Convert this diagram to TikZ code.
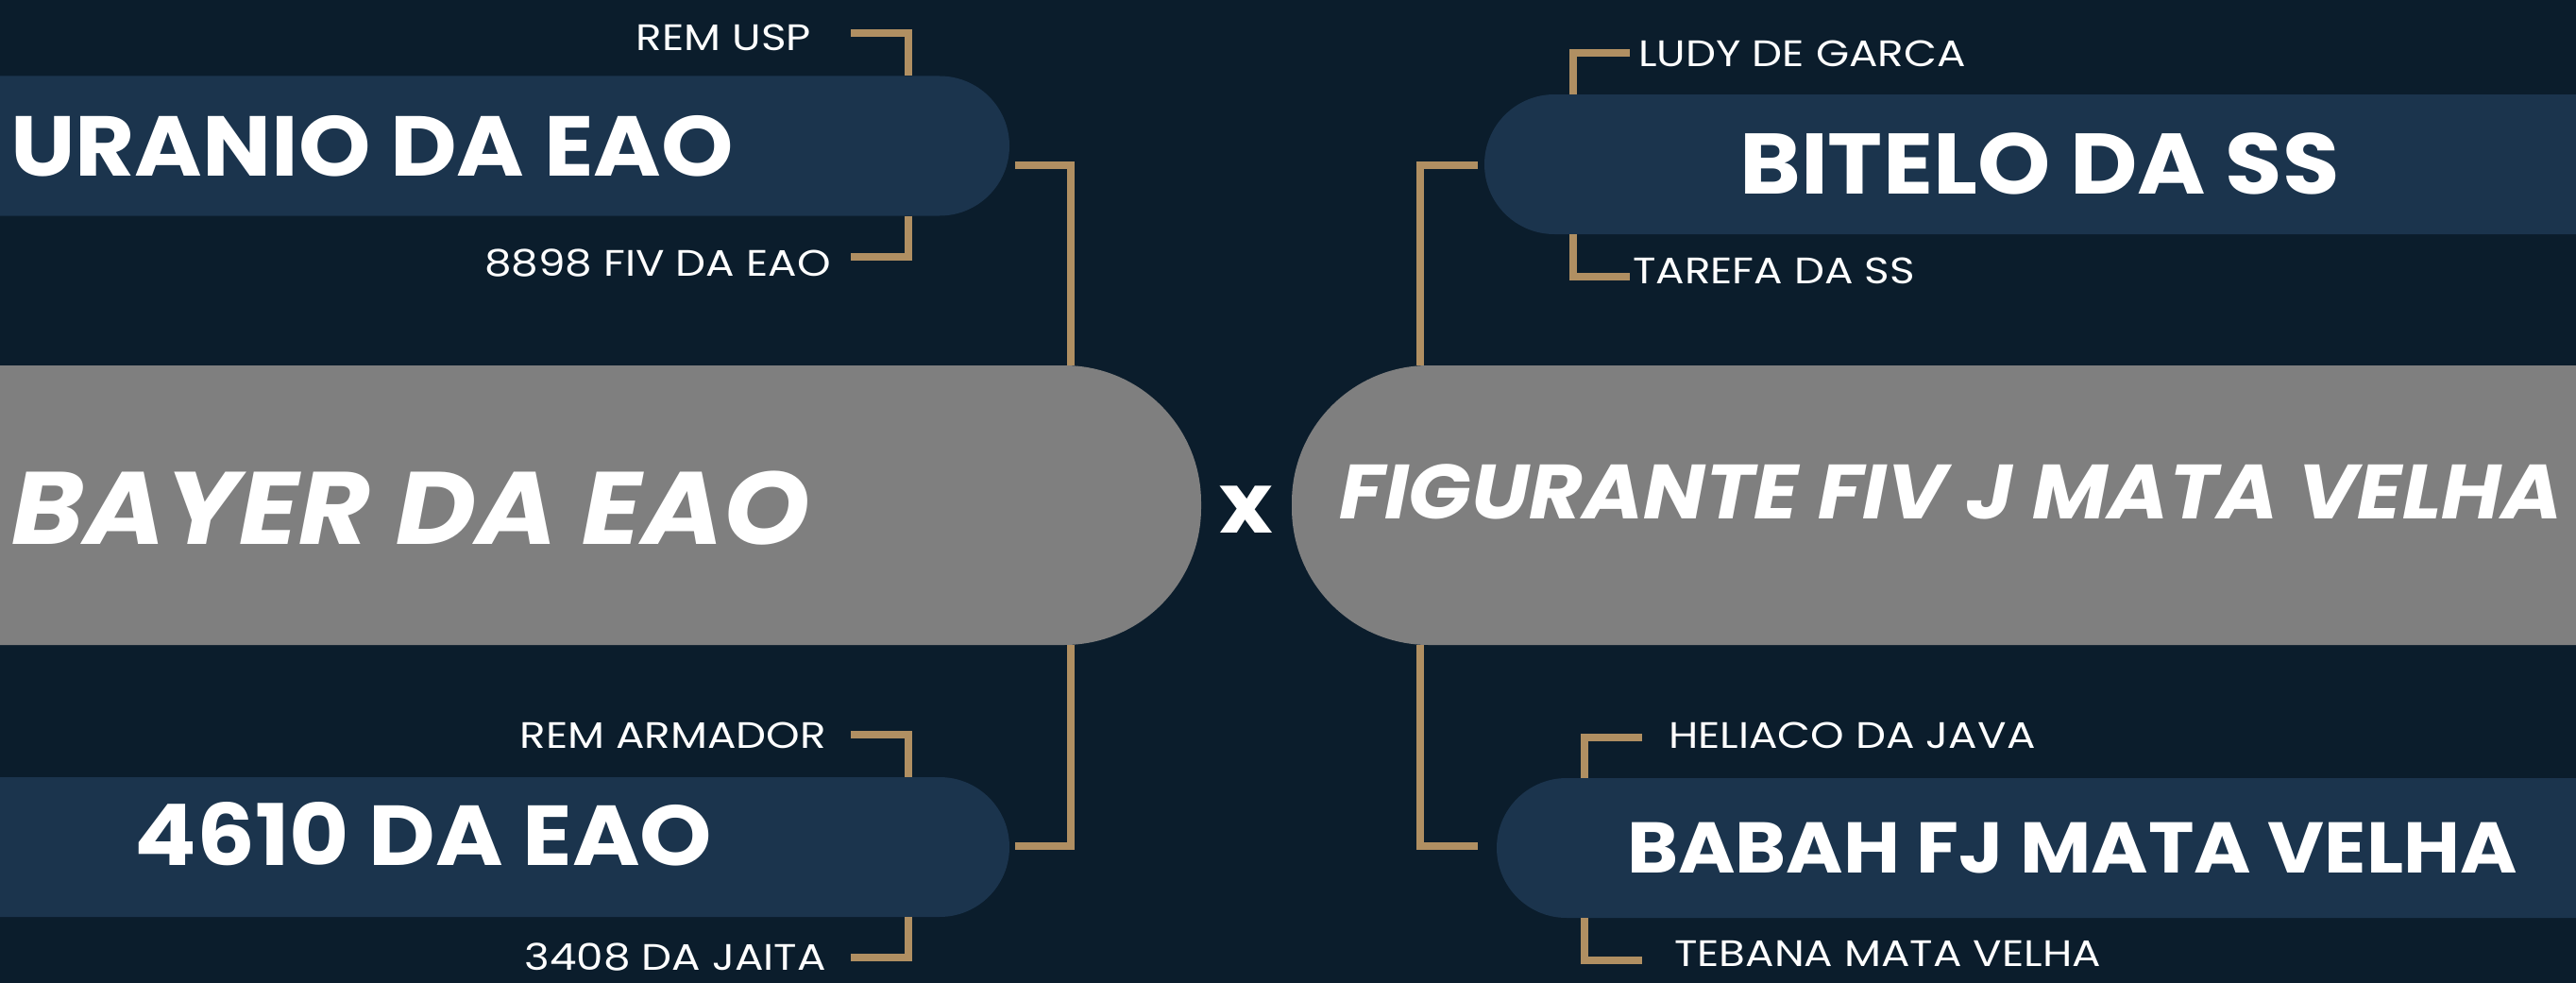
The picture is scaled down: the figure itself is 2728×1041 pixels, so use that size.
\documentclass[tikz,border=0pt]{standalone}
\usepackage{fontspec}
\setmainfont{Poppins}
\newfontfamily\namefont{Poppins}[FakeStretch=1.08]
\newfontfamily\mainfont{Poppins}[FakeStretch=1.07]
\newfontfamily\sirefont{Poppins}[FakeStretch=1.16]
\usetikzlibrary{positioning}
\definecolor{bgnavy}{HTML}{0B1D2C}
\definecolor{boxblue}{HTML}{1B344D}
\definecolor{boxgray}{HTML}{7F7F7F}
\definecolor{gold}{HTML}{B08F62}
\tikzset{
  parentbox/.style={fill=boxblue,rounded corners=74pt,minimum height=148pt,inner sep=0pt},
  mainbox/.style={fill=boxgray,rounded corners=145pt,minimum height=296pt,inner sep=0pt},
  parenttxt/.style={text=white,inner sep=0pt,font=\namefont\bfseries\fontsize{#1}{#1}\selectfont},
  maintxt/.style={text=white,inner sep=0pt,font=\mainfont\bfseries\itshape\fontsize{#1}{#1}\selectfont},
  sire/.style={text=white,inner sep=0pt,font=\sirefont\fontsize{39pt}{39pt}\selectfont},
  link/.style={draw=gold,line width=8pt}
}
\begin{document}
\begin{tikzpicture}[x=1pt,y=-1pt]
\useasboundingbox (0,0) rectangle (2728,1041);
\clip (0,0) rectangle (2728,1041);
\fill[bgnavy] (0,0) rectangle (2728,1041);
% columns of the gold brackets
\coordinate (colA) at (962,0);
\coordinate (colB) at (1134,0);
\coordinate (colC) at (1504,0);
\coordinate (colD) at (1666,0);
\coordinate (colE) at (1678,0);
% left side: sire and his parents
\node[parentbox,minimum width=1269pt] (uranio) at (434.5,154.5) {};
\node[mainbox,minimum width=1472pt] (bayer) at (536,535) {};
\node[parentbox,minimum width=1269pt] (quatro) at (434.5,897) {};
\node[parenttxt=90pt] (uraniotxt) at (394,154.5) {URANIO DA EAO};
\node[maintxt=109pt] (bayertxt) at (435,538) {BAYER DA EAO};
\node[parenttxt=90pt] (quatrotxt) at (448.5,883) {4610 DA EAO};
% right side: dam and her parents
\node[parentbox,minimum width=1356pt] (bitelo) at (2250,174) {};
\node[mainbox,minimum width=1560pt] (figurante) at (2148,535) {};
\node[parentbox,minimum width=1343pt] (babah) at (2256.5,898) {};
\node[parenttxt=91pt] (bitelotxt) at (2160,173) {BITELO DA SS};
\node[maintxt=81.5pt] (figurantetxt) at (2066,521) {FIGURANTE FIV J MATA VELHA};
\node[parenttxt=76pt] (babahtxt) at (2194.5,898) {BABAH FJ MATA VELHA};
\node[parenttxt=89pt] (cross) at (1320,540) {x};
% grandparents
\node[sire,anchor=east] (remusp) at (859,39.5) {REM USP};
\node[sire,anchor=east] (fiv) at (880,279) {8898 FIV DA EAO};
\node[sire,anchor=east] (armador) at (875,779) {REM ARMADOR};
\node[sire,anchor=east] (jaita) at (875,1014) {3408 DA JAITA};
\node[sire,anchor=west] (ludy) at (1735,56.5) {LUDY DE GARCA};
\node[sire,anchor=west] (tarefa) at (1729,286.5) {TAREFA DA SS};
\node[sire,anchor=west] (heliaco) at (1767,779) {HELIACO DA JAVA};
\node[sire,anchor=west] (tebana) at (1773,1010) {TEBANA MATA VELHA};
% free ends of the brackets
\coordinate (t1) at (901,35.5);
\coordinate (t2) at (901,272);
\coordinate (t3) at (901,778);
\coordinate (t4) at (901,1014);
\coordinate (t5) at (1726,56.5);
\coordinate (t6) at (1726,293);
\coordinate (t7) at (1739,780.5);
\coordinate (t8) at (1739,1017);
\coordinate (m1) at (1075,175);
\coordinate (m2) at (1075,895.5);
\coordinate (m3) at (1565,174.5);
\coordinate (m4) at (1565,895.5);
\draw[link] (t1) -| (colA |- uranio.north);
\draw[link] (uranio.south -| colA) |- (t2);
\draw[link] (t3) -| (colA |- quatro.north);
\draw[link] (quatro.south -| colA) |- (t4);
\draw[link] (t5) -| (colD |- bitelo.north);
\draw[link] (bitelo.south -| colD) |- (t6);
\draw[link] (t7) -| (colE |- babah.north);
\draw[link] (babah.south -| colE) |- (t8);
\draw[link] (m1) -| (colB |- bayer.north);
\draw[link] (bayer.south -| colB) |- (m2);
\draw[link] (m3) -| (colC |- figurante.north);
\draw[link] (figurante.south -| colC) |- (m4);
\end{tikzpicture}
\end{document}
